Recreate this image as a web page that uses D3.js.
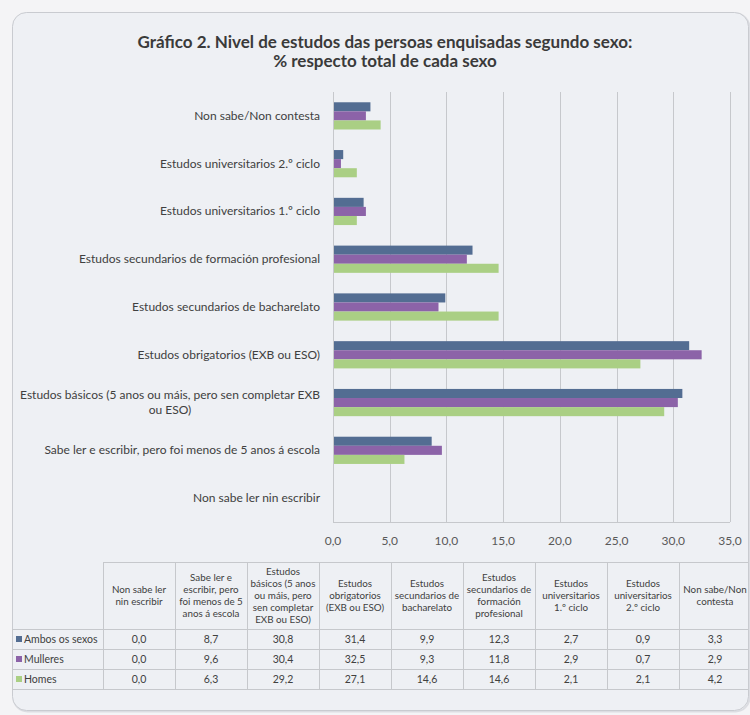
<!DOCTYPE html>
<html>
<head>
<meta charset="utf-8">
<script src="https://cdn.jsdelivr.net/npm/d3@7"></script>
<style>
  body { margin: 0; background: #f4f4f6; }
  svg { display: block; font-family: Lato, 'Open Sans', sans-serif; }
</style>
</head>
<body>
<div id="chart"></div>
<script>
// categories in table order (Excel draws the first one at the bottom)
var categories = [
    'Non sabe ler nin escribir',
    'Sabe ler e escribir, pero foi menos de 5 anos á escola',
    'Estudos básicos (5 anos ou máis, pero sen completar EXB ou ESO)',
    'Estudos obrigatorios (EXB ou ESO)',
    'Estudos secundarios de bacharelato',
    'Estudos secundarios de formación profesional',
    'Estudos universitarios 1.º ciclo',
    'Estudos universitarios 2.º ciclo',
    'Non sabe/Non contesta'
];
// wrapped axis labels and table headers
var axisLabelLines = [
    ['Non sabe ler nin escribir'],
    ['Sabe ler e escribir, pero foi menos de 5 anos á escola'],
    ['Estudos básicos (5 anos ou máis, pero sen completar EXB', 'ou ESO)'],
    ['Estudos obrigatorios (EXB ou ESO)'],
    ['Estudos secundarios de bacharelato '],
    ['Estudos secundarios de formación profesional'],
    ['Estudos universitarios 1.º ciclo'],
    ['Estudos universitarios 2.º ciclo'],
    ['Non sabe/Non contesta']
];
var headerLines = [
    ['Non sabe ler', 'nin escribir'],
    ['Sabe ler e', 'escribir, pero', 'foi menos de 5', 'anos á escola'],
    ['Estudos', 'básicos (5 anos', 'ou máis, pero', 'sen completar', 'EXB ou ESO)'],
    ['Estudos', 'obrigatorios', '(EXB ou ESO)'],
    ['Estudos', 'secundarios de', 'bacharelato'],
    ['Estudos', 'secundarios de', 'formación', 'profesional'],
    ['Estudos', 'universitarios', '1.º ciclo'],
    ['Estudos', 'universitarios', '2.º ciclo'],
    ['Non sabe/Non', 'contesta']
];
var seriesNames = ['Ambos os sexos', 'Mulleres', 'Homes'];
var ambos = [0.0, 8.7, 30.8, 31.4, 9.9, 12.3, 2.7, 0.9, 3.3];
var mulleres = [0.0, 9.6, 30.4, 32.5, 9.3, 11.8, 2.9, 0.7, 2.9];
var homes = [0.0, 6.3, 29.2, 27.1, 14.6, 14.6, 2.1, 2.1, 4.2];
var xTicks = [0, 5, 10, 15, 20, 25, 30, 35];
var titleLines = ['Gráfico 2. Nivel de estudos das persoas enquisadas segundo sexo:', '% respecto total de cada sexo'];

var seriesValues = [ambos, mulleres, homes];
var colors = ['#536d92', '#8c63a8', '#aacf84'];
var textColor = '#404040';
var lineColor = '#c6c8cc';

var locale = d3.formatLocale({decimal: ',', thousands: '.', grouping: [3], currency: ['', '€']});
var f = locale.format('.1f');

var svg = d3.select('#chart')
    .append('svg')
    .attr('width', 750)
    .attr('height', 715);

svg.append('rect')
    .attr('width', 750).attr('height', 715)
    .style('fill', '#f4f4f6');

//Frame
var frame = {left: 12, top: 12, right: 748, bottom: 710};
svg.append('rect')
    .attr('x', frame.left + 1.5).attr('y', frame.top + 1.5)
    .attr('width', frame.right - frame.left).attr('height', frame.bottom - frame.top)
    .attr('rx', 14)
    .style('fill', 'none')
    .style('stroke', '#dcdde2')
    .style('stroke-width', 2);
svg.append('rect')
    .attr('x', frame.left + 0.5).attr('y', frame.top + 0.5)
    .attr('width', frame.right - frame.left).attr('height', frame.bottom - frame.top)
    .attr('rx', 14)
    .style('fill', '#eef0f4')
    .style('stroke', '#c9cbd0');

svg.append('clipPath').attr('id', 'frameClip')
    .append('rect')
    .attr('x', frame.left).attr('y', frame.top)
    .attr('width', frame.right - frame.left).attr('height', frame.bottom - frame.top)
    .attr('rx', 14);

var g = svg.append('g').attr('clip-path', 'url(#frameClip)');

//Title
g.selectAll('.title')
    .data(titleLines)
    .enter()
    .append('text')
    .attr('class', 'title')
    .attr('x', 385)
    .attr('y', function(d, i){ return 48 + i * 19; })
    .attr('text-anchor', 'middle')
    .style('font-size', '17px')
    .style('font-weight', 700)
    .style('fill', '#3a3a3a')
    .text(function(d){ return d; });

//Scales
var plot = {left: 333, right: 730, top: 92, bottom: 522};
var x = d3.scaleLinear()
    .domain([0, 35])
    .range([plot.left, plot.right]);

var y = d3.scaleBand()
    .domain(categories.slice().reverse())
    .range([plot.top, plot.bottom])
    .paddingInner(0.43)
    .paddingOuter(0.215);

var ySub = d3.scaleBand()
    .domain(seriesNames)
    .range([0, y.bandwidth()]);

//Gridlines
g.selectAll('.grid')
    .data(xTicks)
    .enter()
    .append('line')
    .attr('class', 'grid')
    .attr('x1', function(d){ return Math.round(x(d)) + 0.5; })
    .attr('x2', function(d){ return Math.round(x(d)) + 0.5; })
    .attr('y1', plot.top)
    .attr('y2', plot.bottom)
    .style('stroke', lineColor);

g.append('line')
    .attr('x1', plot.left).attr('x2', plot.right)
    .attr('y1', plot.bottom + 0.5).attr('y2', plot.bottom + 0.5)
    .style('stroke', lineColor);

//Bars
seriesValues.forEach(function(values, s){
    g.selectAll('.bar' + s)
        .data(values)
        .enter()
        .append('rect')
        .attr('class', 'bar' + s)
        .attr('x', x(0) + 1)
        .attr('y', function(d, i){ return y(categories[i]) + ySub(seriesNames[s]); })
        .attr('width', function(d){ return Math.max(0, x(d) - x(0) - 1); })
        .attr('height', ySub.bandwidth())
        .style('fill', colors[s]);
});

//Y axis labels
var labels = g.selectAll('.ylabel')
    .data(categories)
    .enter()
    .append('text')
    .attr('class', 'ylabel')
    .style('font-size', '12px')
    .style('fill', textColor)
    .attr('text-anchor', 'middle');

labels.each(function(d, i){
    var lines = axisLabelLines[i];
    var el = d3.select(this);
    var cy = y(d) + y.bandwidth() / 2;
    lines.forEach(function(line, j){
        el.append('tspan')
            .attr('y', cy + 4 + (j - (lines.length - 1) / 2) * 15)
            .text(line);
    });
    // right-align the block, center each line inside it
    var widths = [];
    el.selectAll('tspan').each(function(){ widths.push(this.getComputedTextLength()); });
    var w = d3.max(widths);
    el.selectAll('tspan').attr('x', 320 - w / 2);
});

//X tick labels
g.selectAll('.xtick')
    .data(xTicks)
    .enter()
    .append('text')
    .attr('class', 'xtick')
    .attr('x', function(d){ return x(d); })
    .attr('y', 545)
    .attr('text-anchor', 'middle')
    .style('font-size', '12px')
    .style('fill', '#595959')
    .text(function(d){ return f(d); });

//Data table
var table = {left: 12, colLeft: 103, right: 751, top: 562, headBottom: 629, rowH: 20};
var col = d3.scaleBand()
    .domain(categories)
    .range([table.colLeft, table.right]);
var row = d3.scaleBand()
    .domain(seriesNames)
    .range([table.headBottom, table.headBottom + table.rowH * seriesNames.length]);
var tableBottom = table.headBottom + table.rowH * seriesNames.length;

//horizontal lines
g.append('line')
    .attr('x1', table.colLeft).attr('x2', table.right)
    .attr('y1', table.top + 0.5).attr('y2', table.top + 0.5)
    .style('stroke', lineColor);
g.selectAll('.hline')
    .data(seriesNames.concat(['end']))
    .enter()
    .append('line')
    .attr('class', 'hline')
    .attr('x1', table.left).attr('x2', table.right)
    .attr('y1', function(d, i){ return table.headBottom + i * table.rowH + 0.5; })
    .attr('y2', function(d, i){ return table.headBottom + i * table.rowH + 0.5; })
    .style('stroke', lineColor);

//vertical lines
g.selectAll('.vline')
    .data(categories)
    .enter()
    .append('line')
    .attr('class', 'vline')
    .attr('x1', function(d){ return Math.round(col(d)) + 0.5; })
    .attr('x2', function(d){ return Math.round(col(d)) + 0.5; })
    .attr('y1', table.top)
    .attr('y2', tableBottom)
    .style('stroke', lineColor);
g.append('line')
    .attr('x1', table.left + 0.5).attr('x2', table.left + 0.5)
    .attr('y1', table.headBottom).attr('y2', tableBottom)
    .style('stroke', lineColor);

//header texts
var headers = g.selectAll('.head')
    .data(categories)
    .enter()
    .append('text')
    .attr('class', 'head')
    .attr('text-anchor', 'middle')
    .style('font-size', '9.8px')
    .style('fill', textColor);
headers.each(function(d, i){
    var lines = headerLines[i];
    var el = d3.select(this);
    var cy = (table.top + table.headBottom) / 2;
    lines.forEach(function(line, j){
        el.append('tspan')
            .attr('x', col(d) + col.bandwidth() / 2)
            .attr('y', cy + 3.5 + (j - (lines.length - 1) / 2) * 12)
            .text(line);
    });
});

//row labels with legend keys
g.selectAll('.key')
    .data(seriesNames)
    .enter()
    .append('rect')
    .attr('class', 'key')
    .attr('x', 16)
    .attr('y', function(d){ return row(d) + row.bandwidth() / 2 - 3; })
    .attr('width', 6)
    .attr('height', 6)
    .style('fill', function(d, i){ return colors[i]; });
g.selectAll('.rowlabel')
    .data(seriesNames)
    .enter()
    .append('text')
    .attr('class', 'rowlabel')
    .attr('x', 24)
    .attr('y', function(d){ return row(d) + row.bandwidth() / 2 + 3.5; })
    .style('font-size', '10.5px')
    .style('fill', textColor)
    .text(function(d){ return d; });

//cell values
seriesValues.forEach(function(values, s){
    g.selectAll('.cell' + s)
        .data(values)
        .enter()
        .append('text')
        .attr('class', 'cell' + s)
        .attr('x', function(d, i){ return col(categories[i]) + col.bandwidth() / 2; })
        .attr('y', row(seriesNames[s]) + row.bandwidth() / 2 + 3.5)
        .attr('text-anchor', 'middle')
        .style('font-size', '10.5px')
        .style('fill', textColor)
        .text(function(d){ return f(d); });
});
</script>
</body>
</html>
